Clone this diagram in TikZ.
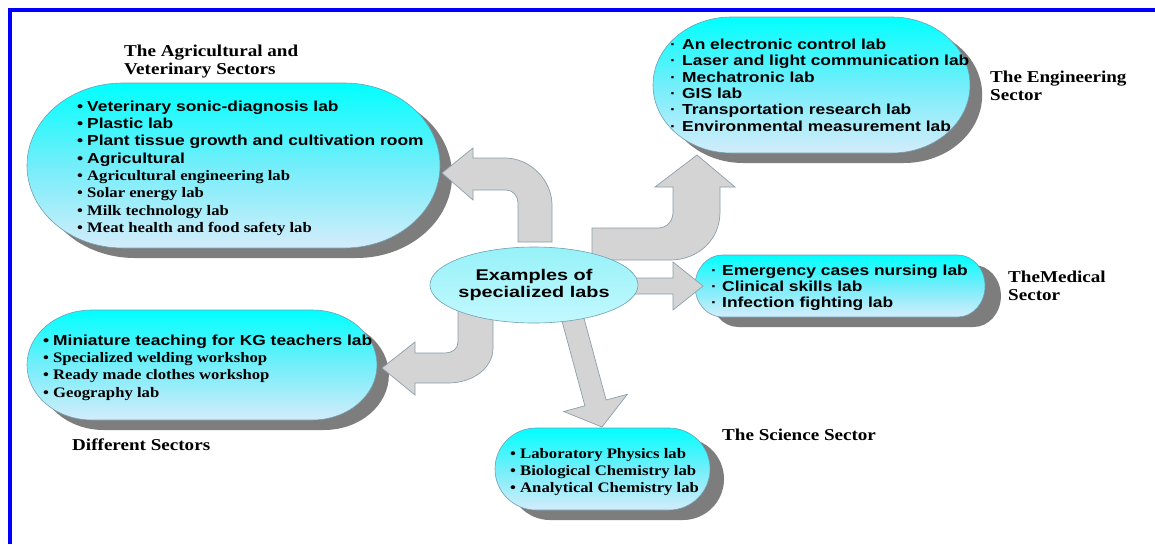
\documentclass[tikz,border=0pt]{standalone}
\usepackage{fontspec}
\newfontfamily\sansL{Liberation Sans}[FakeStretch=1.2]
\newfontfamily\sansC{Liberation Sans}[FakeStretch=1.28]
\newfontfamily\serifL{Liberation Serif}[FakeStretch=1.15]
\usetikzlibrary{shapes.misc,shapes.geometric,shadows}
\definecolor{cyanT}{RGB}{0,255,255}
\definecolor{cyanM}{RGB}{115,238,250}
\definecolor{cyanB}{RGB}{212,236,250}
\definecolor{boxline}{RGB}{110,160,180}
\definecolor{shadowgray}{RGB}{125,125,125}
\definecolor{arrowfill}{RGB}{212,212,212}
\definecolor{arrowline}{RGB}{140,160,170}
\definecolor{ellT}{RGB}{150,242,248}
\definecolor{ellB}{RGB}{195,248,255}
\definecolor{frameblue}{RGB}{0,0,255}
\newcommand\bul{\makebox[10pt][l]{•}}
\newcommand\dotb{\makebox[12pt][l]{·}}
% name, cx, cy, width, height, end ratio
\newcommand\stadbox[6]{%
  \begin{scope}[shift={(#2,#3)}, xscale=#6]
    \node[box, transform shape, minimum width={#4/#6}, minimum height=#5,
      drop shadow={shadow xshift={14pt/#6}, shadow yshift=-10pt, fill=shadowgray, opacity=1}]
      (#1) at (0,0) {};
  \end{scope}}
\begin{document}
\begin{tikzpicture}[x=1pt,y=-1pt,
  box/.style={rounded rectangle, draw=boxline, line width=0.6pt,
    top color=cyanT, bottom color=cyanB, middle color=cyanM, inner sep=0pt},
  blockarrow/.style={fill=arrowfill, draw=arrowline, line width=0.7pt, line join=miter},
  listtext/.style={anchor=north west, inner sep=0pt, align=left},
  sansfont/.style={font=\sansL\bfseries\fontsize{14.5}{#1}\selectfont},
  seriffont/.style={font=\serifL\bfseries\fontsize{14.5}{#1}\selectfont},
  labelfont/.style={anchor=north west, inner sep=0pt, align=left,
    font=\serifL\bfseries\fontsize{16.6}{18}\selectfont}
]
\useasboundingbox (0,0) rectangle (1155,544);
\fill[white] (0,0) rectangle (1155,544);
\draw[frameblue, line width=4pt] (9.5,544) -- (9.5,9.5) -- (1155,9.5);

% boxes
\stadbox{agr}{233.5}{165.5}{413}{165}{1.16}
\stadbox{eng}{811.5}{85}{317}{136}{1.15}
\stadbox{med}{840}{286}{290}{62}{0.88}
\stadbox{sci}{602.5}{469}{215}{82}{1.0}
\stadbox{diff}{202}{365}{350}{110}{1.18}

% block arrows
\filldraw[blockarrow] (473,158) -- (505,158) .. controls (530,158) and (552,180) .. (552,205)
  -- (552,242) -- (518,242) -- (518,203) .. controls (518,196) and (513,190) .. (506,190)
  -- (473,190) -- (473,200) -- (442,173) -- (473,148) -- cycle;
\filldraw[blockarrow] (592,228) -- (658,228) .. controls (667,228) and (673,221) .. (673,212)
  -- (673,187) -- (655,187) -- (697,155) -- (735,187) -- (720,187) -- (720,212)
  .. controls (720,240) and (698,260) .. (670,260) -- (592,260) -- cycle;
\filldraw[blockarrow] (625,278) -- (673,278) -- (673,262) -- (703,286) -- (673,310)
  -- (673,294) -- (625,294) -- cycle;
\filldraw[blockarrow] (458,310) -- (458,342) .. controls (458,349) and (452,353) .. (445,353)
  -- (415,353) -- (415,342) -- (382,368) -- (415,395) -- (415,383) -- (448,383)
  .. controls (473,383) and (493,368) .. (493,348) -- (493,310) -- cycle;
\filldraw[blockarrow] (561.4,318.9) -- (584.9,405.8) -- (563.7,411.5) -- (602,427)
  -- (627.3,394.3) -- (606.1,400) -- (582.6,313.1) -- cycle;

% hub
\node[ellipse, draw=boxline, line width=0.6pt, top color=ellT, bottom color=ellB,
  minimum width=208pt, minimum height=76pt, inner sep=0pt] (hub) at (534,285) {};
\node[align=center, inner sep=0pt, font=\sansC\bfseries\fontsize{15.5}{16.5}\selectfont]
  (hubtext) at (hub.center) {Examples of\\specialized labs};

% lists
\node[listtext, sansfont=17.3] (agrlist) at (77,100.5) {%
  \bul Veterinary sonic-diagnosis lab\\
  \bul Plastic lab\\
  \bul Plant tissue growth and cultivation room\\
  \bul Agricultural\\
  {\serifL\bfseries\bul Agricultural engineering lab}\\
  {\serifL\bfseries\bul Solar energy lab}\\
  {\serifL\bfseries\bul Milk technology lab}\\
  {\serifL\bfseries\bul Meat health and food safety lab}};
\node[listtext, sansfont=16.4] (englist) at (670,38.6) {%
  \dotb An electronic control lab\\
  \dotb Laser and light communication lab\\
  \dotb Mechatronic lab\\
  \dotb GIS lab\\
  \dotb Transportation research lab\\
  \dotb Environmental measurement lab};
\node[listtext, sansfont=16] (medlist) at (711,264.6) {%
  \makebox[11pt][l]{·}Emergency cases nursing lab\\
  \makebox[11pt][l]{·}Clinical skills lab\\
  \makebox[11pt][l]{·}Infection fighting lab};
\node[listtext, seriffont=17] (scilist) at (510,447.8) {%
  \bul Laboratory Physics lab\\
  \bul Biological Chemistry lab\\
  \bul Analytical Chemistry lab};
\node[listtext, sansfont=17.3] (difflist) at (43,334.6) {%
  \bul Miniature teaching for KG teachers lab\\
  {\serifL\bfseries\bul Specialized welding workshop}\\
  {\serifL\bfseries\bul Ready made clothes workshop}\\
  {\serifL\bfseries\bul Geography lab}};

% sector labels
\node[labelfont] (agrtitle) at (124,45.2) {The Agricultural and\\Veterinary Sectors};
\node[labelfont] (englabel) at (990,71.2) {The Engineering\\Sector};
\node[labelfont] (medlabel) at (1008,271.2) {TheMedical\\Sector};
\node[labelfont] (scilabel) at (722,429) {The Science Sector};
\node[labelfont] (difflabel) at (72,439) {Different Sectors};
\end{tikzpicture}
\end{document}
